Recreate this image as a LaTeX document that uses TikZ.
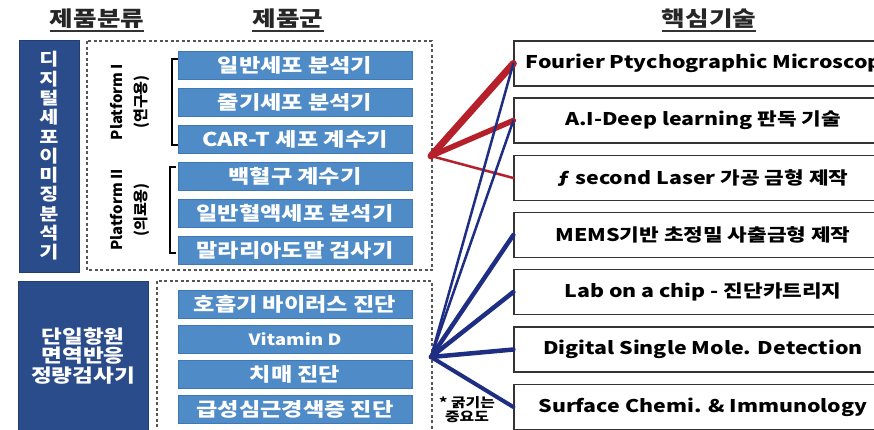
\documentclass[tikz,border=0pt]{standalone}
\usepackage{fontspec}
\setmainfont{Noto Sans CJK KR}[FakeStretch=1.22]
\newfontfamily\plainkr{Noto Sans CJK KR}
\definecolor{darkbox}{HTML}{2B4C8A}
\definecolor{bluebox}{HTML}{4F8BC7}
\definecolor{blueedge}{HTML}{3E78B6}
\definecolor{redline}{HTML}{B5202A}
\definecolor{navyline}{HTML}{1E2E82}
\definecolor{dashgray}{HTML}{555555}
\tikzset{
  header/.style={font=\fontsize{21}{23}\selectfont\bfseries, text=black!85, inner sep=0pt},
  catbox/.style={fill=darkbox, draw=darkbox!80!black, line width=0.6pt, text=white, align=center, inner sep=0pt},
  prodbox/.style={fill=bluebox, draw=blueedge, line width=0.6pt, text=white, minimum width=234pt, minimum height=28pt, inner sep=0pt, font=\fontsize{19}{21}\selectfont\bfseries},
  techfont/.style={font=\fontsize{17.5}{20}\selectfont\bfseries},
  techbox/.style={draw=black!80, line width=1.3pt, fill=white, minimum width=378pt, minimum height=45pt, inner sep=0pt, techfont},
  dashbox/.style={draw=dashgray, line width=1.1pt, dash pattern=on 3pt off 2.5pt},
  bracket/.style={draw=black, line width=2pt},
  platlabel/.style={rotate=90, align=center, font=\plainkr\fontsize{15}{24}\selectfont\bfseries, inner sep=0pt},
  redl/.style={draw=redline, line cap=round},
  bluel/.style={draw=navyline, line cap=round},
}
\begin{document}
\begin{tikzpicture}[x=1pt,y=-1pt]
\clip (0,0) rectangle (874,429);
\useasboundingbox (0,0) rectangle (874,429);
\fill[white] (0,0) rectangle (874,429);

% headers
\node[header] (h1) at (97,19) {제품분류};
\node[header] (h2) at (288,19) {제품군};
\node[header] (h3) at (709,19) {핵심기술};
\foreach \h in {h1,h2,h3} \draw[black!80, line width=1.2pt] ([yshift=-2pt]\h.south west) -- ([yshift=-2pt]\h.south east);

% category boxes
\node[catbox, minimum width=60pt, minimum height=232pt, font=\fontsize{17}{19.3}\selectfont\bfseries] (c1) at (49,156)
  {디\\지\\털\\세\\포\\이\\미\\징\\분\\석\\기};
\node[catbox, minimum width=130pt, minimum height=160pt, anchor=north west] (c2) at (18,281)
  {};
\node[text=white, align=center, font=\fontsize{18.5}{19.5}\selectfont\bfseries] (c2t) at (83,356) {단일항원\\면역반응\\정량검사기};

% dashed containers
\draw[dashbox] (87,41) rectangle (432,270);
\draw[dashbox] (157,281) rectangle (432,440);

% platform labels
\node[platlabel] (pl1) at (130,102) {Platform I\\(연구용)};
\node[platlabel] (pl2) at (130,210) {Platform II\\(의료용)};
\draw[bracket] (178,59) -- (172,59) -- (172,145) -- (178,145);
\draw[bracket] (176,167) -- (170,167) -- (170,253) -- (176,253);

% product boxes
\node[prodbox] (p1) at (295,65) {일반세포 분석기};
\node[prodbox] (p2) at (295,102) {줄기세포 분석기};
\node[prodbox] (p3) at (295,139) {CAR-T 세포 계수기};
\node[prodbox] (p4) at (295,176) {백혈구 계수기};
\node[prodbox] (p5) at (295,213) {일반혈액세포 분석기};
\node[prodbox] (p6) at (295,250) {말라리아도말 검사기};
\node[prodbox] (q1) at (295,304) {호흡기 바이러스 진단};
\node[prodbox, font=\fontsize{15.5}{17}\selectfont\bfseries] (q2) at (295,339) {Vitamin D};
\node[prodbox] (q3) at (295,374) {치매 진단};
\node[prodbox] (q4) at (295,409) {급성심근경색증 진단};

% note
\node[align=center, font=\fontsize{13}{14}\selectfont\bfseries, inner sep=0pt] (note) at (467,410) {* 굵기는\\중요도};

% technology boxes
\node[techbox] (t1) at (703,63.5) {};
\node[techfont, anchor=west, inner sep=0pt] (t1t) at ([xshift=12pt]t1.west) {Fourier Ptychographic Microscope};
\node[techbox] (t2) at (703,120.5) {A.I-Deep learning 판독 기술};
\node[techbox] (t3) at (703,178) {{\itshape ƒ} second Laser 가공 금형 제작};
\node[techbox] (t4) at (703,235) {MEMS기반 초정밀 사출금형 제작};
\node[techbox] (t5) at (703,292) {Lab on a chip - 진단카트리지};
\node[techbox] (t6) at (703,349.5) {Digital Single Mole. Detection};
\node[techbox] (t7) at (703,407) {Surface Chemi. \& Immunology};

% connectors
\coordinate (rp) at (431,156);
\coordinate (bp) at (431,357);
\draw[redl, line width=7pt] (rp) -- (t1.west);
\draw[redl, line width=5.5pt] (rp) -- (t2.west);
\draw[redl, line width=2.5pt] (rp) -- (t3.west);
\draw[bluel, line width=2.5pt] (bp) -- (t1.west);
\draw[bluel, line width=2.5pt] (bp) -- (t2.west);
\draw[bluel, line width=4.5pt] (bp) -- (t4.west);
\draw[bluel, line width=4.5pt] (bp) -- (t5.west);
\draw[bluel, line width=4.5pt] (bp) -- (t6.west);
\draw[bluel, line width=4pt] (bp) -- (t7.west);
\end{tikzpicture}
\end{document}
